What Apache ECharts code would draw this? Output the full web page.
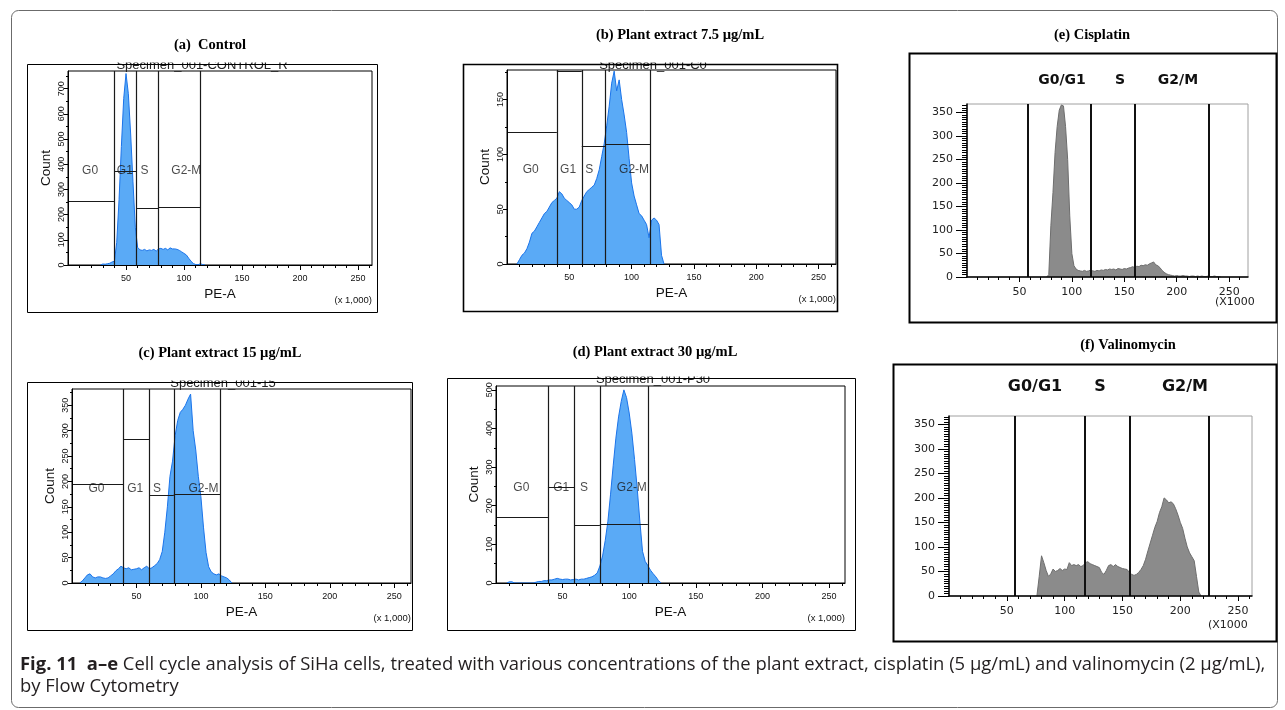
<!DOCTYPE html>
<html>
<head>
<meta charset="UTF-8" />
<title>Cell cycle analysis of SiHa cells</title>
<style>
  html, body { margin: 0; padding: 0; background: #fff; }
  #fig { width: 1285px; height: 710px; }
</style>
<script src="https://cdn.jsdelivr.net/npm/echarts@6/dist/echarts.min.js"></script>
</head>
<body>
<div id="fig"></div>
<script>
// histogram counts, one value per bin of 2 (x 1,000 PE-A)
var binWidth = 2;

var controlStart = 28;
var controlCounts = [0, 4, 3, 5, 7, 12, 15, 90, 260, 470, 660, 760, 680, 520, 330, 150, 70, 60, 58, 62, 56, 60, 58, 62, 55, 64, 66, 62, 66, 60, 68, 64, 64, 62, 58, 52, 46, 40, 27, 15, 6, 2, 1, 5, 2, 0];

var extract75Start = 8;
var extract75Counts = [0, 4, 8, 10, 14, 20, 28, 30, 34, 38, 42, 46, 48, 52, 56, 58, 60, 66, 64, 60, 58, 56, 54, 50, 50, 52, 58, 62, 66, 68, 70, 72, 78, 86, 98, 110, 126, 144, 165, 176, 158, 168, 150, 136, 120, 96, 74, 62, 54, 46, 44, 40, 36, 24, 40, 42, 40, 36, 8, 0];

var extract15Start = 6;
var extract15Counts = [0, 4, 10, 16, 18, 12, 10, 12, 12, 10, 9, 10, 14, 18, 24, 28, 33, 30, 28, 30, 26, 27, 28, 30, 26, 30, 33, 28, 30, 34, 38, 46, 62, 100, 150, 210, 240, 290, 320, 336, 342, 350, 362, 372, 300, 262, 210, 170, 110, 60, 32, 22, 18, 16, 18, 14, 12, 10, 6, 0];

var extract30Start = 8;
var extract30Counts = [0, 3, 3, 0, 0, 0, 0, 0, 0, 0, 0, 2, 4, 4, 6, 6, 8, 8, 10, 12, 10, 9, 10, 10, 8, 9, 10, 8, 10, 10, 12, 14, 16, 20, 26, 44, 70, 110, 160, 230, 305, 375, 430, 470, 500, 480, 440, 388, 320, 245, 160, 82, 56, 45, 33, 24, 16, 6, 0];

var cisplatinStart = 76;
var cisplatinCounts = [0, 5, 110, 180, 265, 320, 355, 366, 364, 320, 250, 130, 50, 24, 17, 14, 13, 12, 14, 12, 13, 15, 13, 12, 14, 13, 15, 14, 16, 15, 17, 16, 17, 15, 18, 17, 16, 18, 17, 19, 20, 22, 20, 23, 22, 25, 24, 26, 25, 28, 30, 32, 26, 24, 20, 14, 10, 7, 5, 4, 3, 2, 3, 2, 2, 3, 2, 2, 1, 2, 2, 1, 2, 1, 2, 1, 1, 2, 1, 1, 2, 1, 1, 0];

var valinomycinStart = 76;
var valinomycinCounts = [0, 40, 82, 68, 52, 40, 45, 55, 50, 52, 56, 52, 55, 54, 68, 62, 64, 62, 64, 60, 62, 68, 70, 66, 64, 62, 60, 58, 48, 44, 52, 62, 64, 60, 64, 60, 58, 56, 55, 54, 48, 44, 42, 44, 48, 54, 62, 75, 92, 108, 124, 140, 152, 170, 182, 200, 196, 190, 192, 188, 178, 165, 150, 138, 118, 100, 88, 80, 72, 40, 8, 0];

// gates: boundaries on PE-A, and the height of each interval gate bar
var gateNames = ['G0', 'G1', 'S', 'G2-M'];
var gateLabelX = [19, 49, 66, 102];
var controlGates = [40, 59, 78, 114];
var controlGateHeights = [254, 374, 226, 230];
var extract75Gates = [40, 60, 79, 115];
var extract75GateHeights = [120, 176, 107, 109];
var extract15Gates = [40, 60, 79, 115];
var extract15GateHeights = [194, 284, 172, 174];
var extract30Gates = [39, 59, 78, 114];
var extract30GateHeights = [170, 249, 150, 153];
var cisplatinGates = [58, 118, 160, 231];
var valinomycinGates = [57, 117, 156, 225];
var phaseNames = ['G0/G1', 'S', 'G2/M'];

// tick labels
var xTickLabels = [50, 100, 150, 200, 250];
var controlYTicks = [0, 100, 200, 300, 400, 500, 600, 700];
var extract75YTicks = [0, 50, 100, 150];
var extract15YTicks = [0, 50, 100, 150, 200, 250, 300, 350];
var extract30YTicks = [0, 100, 200, 300, 400, 500];
var drugYTicks = [0, 50, 100, 150, 200, 250, 300, 350];

var captionText = 'Cell cycle analysis of SiHa cells, treated with various concentrations of the plant extract, cisplatin (5 µg/mL) and valinomycin (2 µg/mL),';

// layout of the six panels (pixels)
var panels = [
  { style: 'bd', title: '(a)  Control', titleX: 210, titleY: 45, box: [27, 64, 350, 248],
    grid: [68, 71, 304, 194], xMax: 262, yMax: 770, yTicks: controlYTicks, yMinor: 50,
    start: controlStart, counts: controlCounts, gates: controlGates, heights: controlGateHeights,
    specimen: 'Specimen_001-CONTROL_R', specimenX: 202 },
  { style: 'bd', title: '(b) Plant extract 7.5 µg/mL', titleX: 680, titleY: 35, box: [463, 64, 374, 247],
    grid: [507, 70, 329, 194], xMax: 264, yMax: 177, yTicks: extract75YTicks, yMinor: 25,
    start: extract75Start, counts: extract75Counts, gates: extract75Gates, heights: extract75GateHeights,
    specimen: 'Specimen_001-C0', specimenX: 653 },
  { style: 'bd', title: '(c) Plant extract 15 µg/mL', titleX: 220, titleY: 353, box: [27, 382, 385, 248],
    grid: [72, 389, 339, 194], xMax: 263, yMax: 382, yTicks: extract15YTicks, yMinor: 25,
    start: extract15Start, counts: extract15Counts, gates: extract15Gates, heights: extract15GateHeights,
    specimen: 'Specimen_001-15', specimenX: 223 },
  { style: 'bd', title: '(d) Plant extract 30 µg/mL', titleX: 655, titleY: 352, box: [447, 378, 408, 252],
    grid: [496, 386, 349, 197], xMax: 262, yMax: 510, yTicks: extract30YTicks, yMinor: 50,
    start: extract30Start, counts: extract30Counts, gates: extract30Gates, heights: extract30GateHeights,
    specimen: 'Specimen_001-P30', specimenX: 653 },
  { style: 'drug', title: '(e) Cisplatin', titleX: 1092, titleY: 35, box: [909, 53, 367, 269],
    grid: [967, 104, 281, 173], xMax: 268, yMax: 368, yTicks: drugYTicks, yMinor: 5,
    start: cisplatinStart, counts: cisplatinCounts, gates: cisplatinGates,
    headerY: 80, headerX: [1062, 1120, 1178], headerSize: 14, unitX: 1215, unitGap: 25 },
  { style: 'drug', title: '(f) Valinomycin', titleX: 1128, titleY: 345, box: [893, 364, 383, 277],
    grid: [949, 416, 303, 180], xMax: 262, yMax: 367, yTicks: drugYTicks, yMinor: 5,
    start: valinomycinStart, counts: valinomycinCounts, gates: valinomycinGates,
    headerY: 387, headerX: [1035, 1100, 1185], headerSize: 16, unitX: 1208, unitGap: 29 }
];

function bins(start, counts) {
  return counts.map(function (c, i) { return [start + i * binWidth, c]; });
}

function steps(from, to, step) {
  var out = [];
  for (var v = from; v <= to + 1e-9; v += step) out.push(v);
  return out;
}

var option = { animation: false, grid: [], xAxis: [], yAxis: [], series: [], graphic: { elements: [] } };
var g = option.graphic.elements;

// outer figure frame
g.push({ type: 'rect', z: 1, shape: { x: 11.5, y: 10.5, width: 1266, height: 697, r: 7 },
  style: { fill: 'none', stroke: '#6b6b6b', lineWidth: 1 } });

panels.forEach(function (p, i) {
  var bd = p.style === 'bd';
  var font = bd ? { fontFamily: 'Liberation Sans', fontSize: 9, color: '#111' }
                : { fontFamily: 'DejaVu Sans', fontSize: 11, color: '#222' };
  var left = p.grid[0], top = p.grid[1], w = p.grid[2], h = p.grid[3];

  option.grid.push({ left: left, top: top, width: w, height: h, show: true,
    borderColor: bd ? '#000' : '#a0a0a0', borderWidth: 1, backgroundColor: 'transparent' });

  var xi = option.xAxis.length, yi = option.yAxis.length;

  option.xAxis.push({
    type: 'value', gridIndex: i, min: 0, max: p.xMax, position: 'bottom', z: 5,
    axisLine: { show: true, onZero: false, lineStyle: { color: '#000', width: bd ? 1 : 1.5 } },
    axisTick: { show: true, customValues: xTickLabels, length: 5, lineStyle: { color: '#000' } },
    axisLabel: Object.assign({ show: true, customValues: xTickLabels, margin: bd ? 9 : 10 }, font),
    splitLine: { show: false },
    name: bd ? 'PE-A' : '', nameLocation: 'middle', nameGap: 22,
    nameTextStyle: { fontFamily: 'Liberation Sans', fontSize: 13.5, color: '#111' }
  });
  option.xAxis.push({
    type: 'value', gridIndex: i, min: 0, max: p.xMax, position: 'bottom', z: 5,
    axisLine: { show: false }, axisLabel: { show: false }, splitLine: { show: false },
    axisTick: { show: true, customValues: steps(10, p.xMax, 10), length: 3, lineStyle: { color: '#000' } }
  });

  option.yAxis.push({
    type: 'value', gridIndex: i, min: 0, max: p.yMax, position: 'left', z: 5,
    axisLine: { show: true, onZero: false, lineStyle: { color: '#000', width: bd ? 1 : 1.5 } },
    axisTick: { show: true, customValues: p.yTicks, length: bd ? 4 : 11, lineStyle: { color: '#000' } },
    axisLabel: Object.assign({ show: true, customValues: p.yTicks, margin: bd ? 2 : 14, rotate: bd ? 90 : 0 }, font),
    splitLine: { show: false },
    name: bd ? 'Count' : '', nameLocation: 'middle', nameGap: 15,
    nameTextStyle: { fontFamily: 'Liberation Sans', fontSize: 13.5, color: '#111' }
  });
  option.yAxis.push({
    type: 'value', gridIndex: i, min: 0, max: p.yMax, position: 'left', z: 5,
    axisLine: { show: false }, axisLabel: { show: false }, splitLine: { show: false },
    axisTick: { show: true, customValues: steps(p.yMinor, p.yMax, p.yMinor), length: bd ? 2 : 5,
      lineStyle: { color: '#000' } }
  });

  // histogram
  option.series.push({
    type: 'line', xAxisIndex: xi, yAxisIndex: yi, data: bins(p.start, p.counts),
    symbol: 'none', showSymbol: false, silent: true, z: 2,
    lineStyle: { color: bd ? '#1b74ea' : '#6e6e6e', width: 1 },
    areaStyle: { color: bd ? '#5aaaf6' : '#8b8b8b', opacity: 1 }
  });

  // gate lines
  var segs = p.gates.map(function (x) { return [[x, 0], [x, p.yMax]]; });
  if (bd) {
    var edges = [0].concat(p.gates);
    p.heights.forEach(function (hgt, k) { segs.push([[edges[k], hgt], [edges[k + 1], hgt]]); });
  }
  option.series.push({
    type: 'lines', coordinateSystem: 'cartesian2d', xAxisIndex: xi, yAxisIndex: yi, silent: true, z: 3,
    data: segs.map(function (s) { return { coords: s }; }),
    lineStyle: { color: bd ? '#1a1a1a' : '#111', width: bd ? 1.2 : 2, opacity: 1 }
  });

  if (bd) {
    option.series.push({
      type: 'scatter', xAxisIndex: xi, yAxisIndex: yi, silent: true, z: 4, symbolSize: 1,
      itemStyle: { color: 'transparent' },
      data: gateNames.map(function (n, k) { return { name: n, value: [gateLabelX[k], p.yMax * 0.485] }; }),
      label: { show: true, position: 'inside', formatter: '{b}', color: '#1a1a1a',
        fontFamily: 'Liberation Sans', fontSize: 12 }
    });
  }

  // panel frame and title
  g.push({ type: 'rect', z: 3, shape: { x: p.box[0] + 0.5, y: p.box[1] + 0.5, width: p.box[2], height: p.box[3] },
    style: { fill: 'none', stroke: '#000', lineWidth: bd ? (i === 1 ? 1.6 : 1) : 2 } });
  g.push({ type: 'text', z: 3, x: p.titleX, y: p.titleY,
    style: { text: p.title, align: 'center', verticalAlign: 'middle', textAlign: 'center', textVerticalAlign: 'middle',
      fontFamily: 'Liberation Serif', fontWeight: 'bold', fontSize: 14.5, fill: '#000' } });

  if (bd) {
    // specimen name, top half hidden behind the panel frame
    g.push({ type: 'text', z: 1, x: p.specimenX, y: p.box[1] + 1,
      style: { text: p.specimen, align: 'center', verticalAlign: 'middle', textAlign: 'center', textVerticalAlign: 'middle',
        fontFamily: 'Liberation Sans', fontSize: 13, fill: '#222' } });
    g.push({ type: 'rect', z: 2, shape: { x: p.box[0] + 40, y: p.box[1] - 12, width: p.box[2] - 80, height: 10.5 },
      style: { fill: '#fff' } });
    g.push({ type: 'text', z: 3, x: left + w, y: top + h + 35,
      style: { text: '(x 1,000)', align: 'right', verticalAlign: 'middle', textAlign: 'right', textVerticalAlign: 'middle',
        fontFamily: 'Liberation Sans', fontSize: 9.5, fill: '#111' } });
  } else {
    phaseNames.forEach(function (n, k) {
      g.push({ type: 'text', z: 3, x: p.headerX[k], y: p.headerY,
        style: { text: n, align: 'center', verticalAlign: 'middle', textAlign: 'center', textVerticalAlign: 'middle',
          fontFamily: 'DejaVu Sans', fontWeight: 'bold', fontSize: p.headerSize, fill: '#111' } });
    });
    g.push({ type: 'text', z: 3, x: p.unitX, y: top + h + p.unitGap,
      style: { text: '(X1000', align: 'left', verticalAlign: 'middle', textAlign: 'left', textVerticalAlign: 'middle',
        fontFamily: 'DejaVu Sans', fontSize: 11, fill: '#222' } });
  }
});

// caption, sized so that its first line spans the figure width
var measureCtx = document.createElement('canvas').getContext('2d');
function captionWidth(size) {
  measureCtx.font = 'bold ' + size + 'px "Open Sans"';
  var wdt = measureCtx.measureText('Fig. 11').width + measureCtx.measureText('a–e').width;
  measureCtx.font = size + 'px "Open Sans"';
  return wdt + measureCtx.measureText('   ' + captionText).width;
}
var capSize = 16 * 1246 / captionWidth(16);
g.push({ type: 'text', z: 3, x: 20, y: 665,
  style: { text: '{b|Fig. 11}  {b|a–e} ' + captionText, verticalAlign: 'middle', textVerticalAlign: 'middle',
    fontFamily: 'Open Sans', fontSize: capSize, fill: '#231f20',
    rich: { b: { fontFamily: 'Open Sans', fontWeight: 'bold', fontSize: capSize, fill: '#231f20' } } } });
g.push({ type: 'text', z: 3, x: 20, y: 687,
  style: { text: 'by Flow Cytometry', verticalAlign: 'middle', textVerticalAlign: 'middle',
    fontFamily: 'Open Sans', fontSize: capSize, fill: '#231f20' } });

var chart = echarts.init(document.getElementById('fig'), null, { renderer: 'canvas' });
chart.setOption(option);
</script>
</body>
</html>
